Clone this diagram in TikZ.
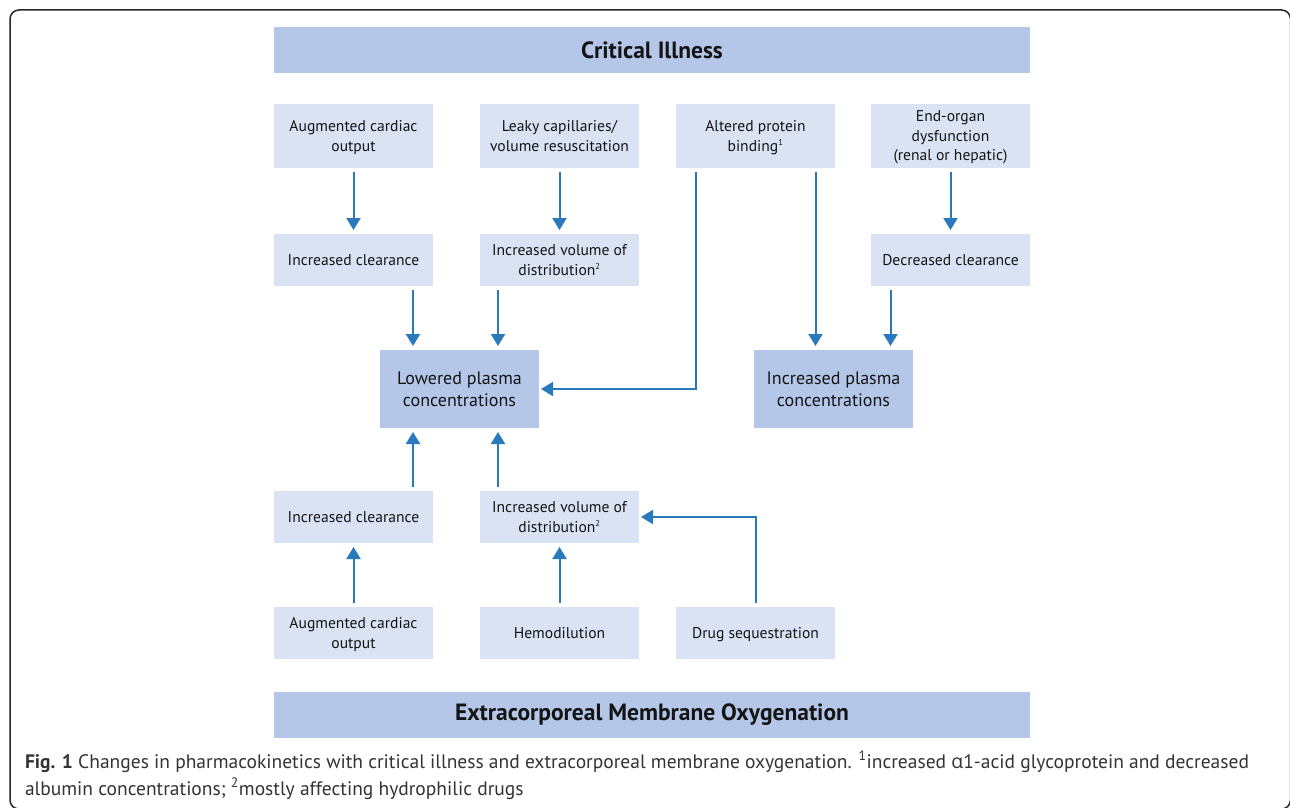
\documentclass[tikz,border=0pt]{standalone}
\usepackage{fontspec}
\setmainfont{PT Sans}
\newfontfamily\grk{Open Sans}
\usepackage{xcolor}
\usepackage{tikz}
\usetikzlibrary{arrows.meta,positioning}
\definecolor{boxlight}{HTML}{DAE3F4}
\definecolor{boxdark}{HTML}{B4C7E9}
\definecolor{arrblue}{HTML}{2A79BD}
\definecolor{captxt}{HTML}{333333}
\newcommand{\bx}{\fontsize{15.6}{19.5}\selectfont}
\newcommand{\cx}{\fontsize{18}{22}\selectfont}
\newcommand{\hx}{\fontsize{23.5}{26}\selectfont\bfseries}
\newcommand{\capx}{\fontsize{19.5}{27}\selectfont}
\newcommand{\sups}[1]{\textsuperscript{\fontsize{8.5}{8.5}\selectfont #1}}

\begin{document}
\begin{tikzpicture}[x=1pt, y=-1pt, every node/.style={inner sep=0pt, outer sep=0pt, text=black!92},
  box/.style={fill=boxlight, minimum width=159pt, minimum height=52pt, align=center, font=\bx, text depth=0.5pt},
  tall/.style={box, minimum height=64pt},
  conc/.style={fill=boxdark, minimum width=159pt, minimum height=78pt, align=center, font=\cx},
  hdr/.style={fill=boxdark, minimum width=756pt, minimum height=46pt, font=\hx},
  arr/.style={draw=arrblue, line width=2pt, -{Triangle[width=14pt,length=12pt]}, shorten <=4pt, shorten >=4pt}]
\useasboundingbox (0,0) rectangle (1290,808);
% ---- outer frame
\draw[black!85, line width=1.5pt, rounded corners=9pt] (10,10) rectangle (1290.5,809);
% ================= critical illness
\node[hdr] (ci) at (652,50) {Critical Illness};
\node[tall] (aco) at (353.5,136) {Augmented cardiac\\output};
\node[tall] (leak) at (559.5,136) {Leaky capillaries/\\volume resuscitation};
\node[tall] (prot) at (755.5,136) {Altered protein\\binding\sups{1}};
\node[tall] (organ) at (950.5,136) {End-organ\\dysfunction\\(renal or hepatic)};
\node[box] (icl) at (353.5,260) {Increased clearance};
\node[box] (ivd) at (559.5,260) {Increased volume of\\distribution\sups{2}};
\node[box] (dcl) at (950.5,260) {Decreased clearance};
% ================= plasma concentrations
\node[conc] (low) at (459.5,389) {Lowered plasma\\concentrations};
\node[conc] (incr) at (833.5,389) {Increased plasma\\concentrations};
% ================= ECMO
\node[box] (eicl) at (353.5,517) {Increased clearance};
\node[box] (eivd) at (559.5,517) {Increased volume of\\distribution\sups{2}};
\node[box] (eaco) at (353.5,633) {Augmented cardiac\\output};
\node[box] (hemo) at (559.5,633) {Hemodilution};
\node[box] (seq) at (755.5,633) {Drug sequestration};
\node[hdr] (ecmo) at (652,715) {Extracorporeal Membrane Oxygenation};
% ---- arrows, top half
\draw[arr] (aco) -- (icl);
\draw[arr] (leak) -- (ivd);
\draw[arr] (organ) -- (dcl);
\draw[arr] ([xshift=-20pt]icl.south east) -- ([xshift=-20pt]icl.south east |- low.north);
\draw[arr] ([xshift=18pt]ivd.south west) -- ([xshift=18pt]ivd.south west |- low.north);
\draw[arr, shorten >=2pt] ([xshift=19.5pt]prot.south west) |- (low.east);
\draw[arr] ([xshift=-19.5pt]prot.south east) -- ([xshift=-19.5pt]prot.south east |- incr.north);
\draw[arr] ([xshift=19.5pt]dcl.south west) -- ([xshift=19.5pt]dcl.south west |- incr.north);
% ---- arrows, bottom half
\draw[arr] ([xshift=-20pt]eicl.north east) -- ([xshift=-20pt]eicl.north east |- low.south);
\draw[arr] ([xshift=18pt]eivd.north west) -- ([xshift=18pt]eivd.north west |- low.south);
\draw[arr] (eaco) -- (eicl);
\draw[arr] (hemo) -- (eivd);
\draw[arr, shorten >=2pt] (seq.north) |- (eivd.east);
% ---- caption
\node[anchor=base west, align=left, font=\capx, text=captxt] (cap) at (25,795)
  {\textbf{Fig. 1} Changes in pharmacokinetics with critical illness and extracorporeal membrane oxygenation. \textsuperscript{1}increased {\grk α}1-acid glycoprotein and decreased\\
   albumin concentrations; \textsuperscript{2}mostly affecting hydrophilic drugs};
\end{tikzpicture}
\end{document}
